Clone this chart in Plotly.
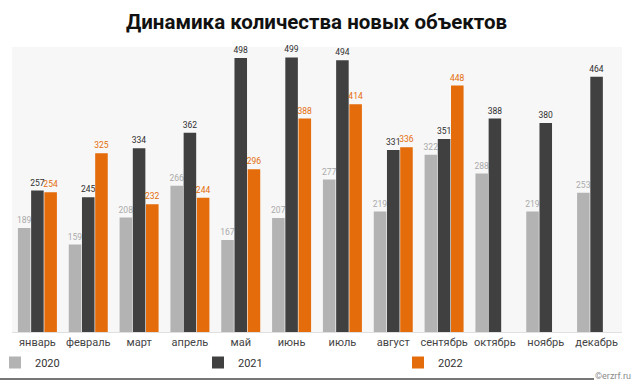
import plotly.graph_objects as go

months = ["январь", "февраль", "март", "апрель", "май", "июнь", "июль",
          "август", "сентябрь", "октябрь", "ноябрь", "декабрь"]
v2020 = [189, 159, 208, 266, 167, 207, 277, 219, 322, 288, 219, 253]
v2021 = [257, 245, 334, 362, 498, 499, 494, 331, 351, 388, 380, 464]
v2022 = [254, 325, 232, 244, 296, 388, 414, 336, 448, None, None, None]
series_names = ["2020", "2021", "2022"]

bar_colors = ["#b3b3b3", "#404040", "#e46c0a"]
label_colors = ["#aaaaaa", "#303030", "#e46c0a"]
legend_ids = ["legend", "legend2", "legend3"]

PW, PH = 610, 285  # plot area size in px

fig = go.Figure()
for name, vals, bc, lc, lg in zip(series_names, [v2020, v2021, v2022], bar_colors, label_colors, legend_ids):
    fig.add_trace(go.Bar(
        x=months, y=vals, name=name, legend=lg,
        marker=dict(color=bc, line=dict(width=0)),
        text=[("" if v is None else str(v)) for v in vals],
        textposition="outside",
        textfont=dict(size=8.5, color=lc, family="Roboto"),
        constraintext="none",
        cliponaxis=False,
    ))

def leg(xpx):
    return dict(orientation="h", x=(xpx - 12) / PW, xanchor="left",
                y=-16 / PH, yanchor="top", itemwidth=30,
                font=dict(size=11, color="#333333"), bgcolor="rgba(0,0,0,0)")

fig.update_layout(
    width=633, height=383,
    margin=dict(l=12, r=11, t=47, b=51, autoexpand=False),
    paper_bgcolor="white",
    plot_bgcolor="#f7f7f7",
    barmode="group",
    bargap=0.22,
    bargroupgap=0.05,
    font=dict(family="Roboto", color="#333333"),
    title=dict(text="<b>Динамика количества новых объектов</b>",
               x=0.5, xanchor="center", y=0.942, yanchor="middle",
               font=dict(size=20.5, color="#111111", family="Roboto")),
    xaxis=dict(showgrid=False, showline=True, linecolor="#e0e0e0", linewidth=1,
               ticks="", tickfont=dict(size=11, color="#444444")),
    yaxis=dict(range=[0, 518], showgrid=False, showticklabels=False,
               zeroline=False, showline=False),
    showlegend=True,
    legend=leg(-5),
    legend2=leg(198),
    legend3=leg(398),
)

fig.add_shape(type="line", xref="paper", yref="paper",
              x0=-12 / PW, x1=582 / PW, y0=-47 / PH, y1=-47 / PH,
              line=dict(color="#777777", width=2))
fig.add_annotation(text="©erzrf.ru", xref="paper", yref="paper",
                   x=621 / PW, y=-44 / PH, xanchor="right", yanchor="middle",
                   showarrow=False, font=dict(size=9, color="#8a8a8a", family="Roboto"))

fig.write_html("out.html", config={"displayModeBar": False},
               post_script="document.body.style.margin='0';document.body.style.overflow='hidden';")
